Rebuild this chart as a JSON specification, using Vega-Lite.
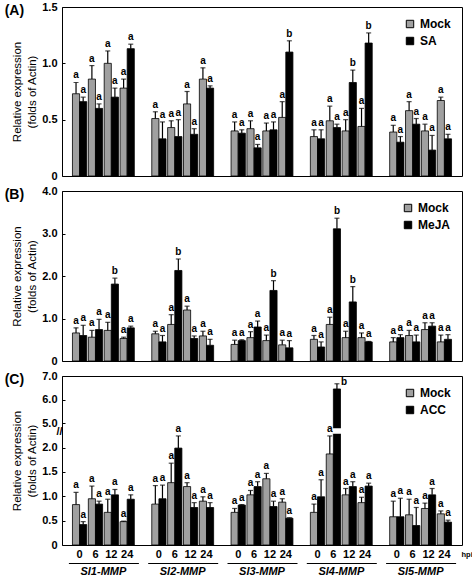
{
"$schema": "https://vega.github.io/schema/vega-lite/v6.json",
"padding": {"left": 4, "top": 0, "right": 0, "bottom": 0},
"spacing": 2,
"config": {
  "font": "Liberation Sans",
  "view": {"stroke": "black", "strokeWidth": 1},
  "axis": {"grid": false, "labelColor": "black", "titleColor": "black", "domainColor": "black", "tickColor": "black", "labelFont": "Liberation Sans", "titleFont": "Liberation Sans"},
  "axisY": {"domain": false, "tickSize": -3, "tickWidth": 1, "labelPadding": 8, "labelFontSize": 11, "labelFontWeight": "bold", "labelOverlap": false, "labelBound": false, "tickCount": 10, "titleFontSize": 11.5, "titleFontWeight": "normal", "titlePadding": 4, "titleLineHeight": 15},
  "legend": {"title": null, "orient": "top-right", "offset": 11, "padding": 0, "symbolType": "square", "symbolSize": 55, "symbolStrokeColor": "black", "symbolStrokeWidth": 1, "labelFontSize": 12, "labelFontWeight": "bold", "labelColor": "black", "labelOffset": 4, "rowPadding": 5, "labelFont": "Liberation Sans"},
  "title": {"anchor": "start", "frame": "bounds", "fontSize": 14, "fontWeight": "bold", "color": "black", "offset": 0, "dy": 21, "dx": -7, "font": "Liberation Sans"}
},
"datasets": {
  "A": [
    {"g":"Sl1-MMP","h":"0","t":"Mock","v":0.73,"e":0.83,"s":"a"},{"g":"Sl1-MMP","h":"0","t":"SA","v":0.66,"e":0.70,"s":"a"},
    {"g":"Sl1-MMP","h":"6","t":"Mock","v":0.86,"e":0.98,"s":"a"},{"g":"Sl1-MMP","h":"6","t":"SA","v":0.60,"e":0.64,"s":"a"},
    {"g":"Sl1-MMP","h":"12","t":"Mock","v":1.00,"e":1.11,"s":"a"},{"g":"Sl1-MMP","h":"12","t":"SA","v":0.70,"e":0.78,"s":"a"},
    {"g":"Sl1-MMP","h":"24","t":"Mock","v":0.78,"e":0.86,"s":"a"},{"g":"Sl1-MMP","h":"24","t":"SA","v":1.13,"e":1.17,"s":"a"},
    {"g":"Sl2-MMP","h":"0","t":"Mock","v":0.51,"e":0.57,"s":"a"},{"g":"Sl2-MMP","h":"0","t":"SA","v":0.33,"e":0.48,"s":"a"},
    {"g":"Sl2-MMP","h":"6","t":"Mock","v":0.43,"e":0.49,"s":"a"},{"g":"Sl2-MMP","h":"6","t":"SA","v":0.35,"e":0.50,"s":"a"},
    {"g":"Sl2-MMP","h":"12","t":"Mock","v":0.64,"e":0.75,"s":"a"},{"g":"Sl2-MMP","h":"12","t":"SA","v":0.37,"e":0.42,"s":"a"},
    {"g":"Sl2-MMP","h":"24","t":"Mock","v":0.86,"e":0.96,"s":"a"},{"g":"Sl2-MMP","h":"24","t":"SA","v":0.78,"e":0.80,"s":"a"},
    {"g":"Sl3-MMP","h":"0","t":"Mock","v":0.40,"e":0.48,"s":"a"},{"g":"Sl3-MMP","h":"0","t":"SA","v":0.38,"e":0.41,"s":"a"},
    {"g":"Sl3-MMP","h":"6","t":"Mock","v":0.42,"e":0.49,"s":"a"},{"g":"Sl3-MMP","h":"6","t":"SA","v":0.25,"e":0.28,"s":"a"},
    {"g":"Sl3-MMP","h":"12","t":"Mock","v":0.40,"e":0.47,"s":"a"},{"g":"Sl3-MMP","h":"12","t":"SA","v":0.41,"e":0.48,"s":"a"},
    {"g":"Sl3-MMP","h":"24","t":"Mock","v":0.52,"e":0.66,"s":"a"},{"g":"Sl3-MMP","h":"24","t":"SA","v":1.10,"e":1.20,"s":"b"},
    {"g":"Sl4-MMP","h":"0","t":"Mock","v":0.35,"e":0.41,"s":"a"},{"g":"Sl4-MMP","h":"0","t":"SA","v":0.33,"e":0.41,"s":"a"},
    {"g":"Sl4-MMP","h":"6","t":"Mock","v":0.49,"e":0.62,"s":"a"},{"g":"Sl4-MMP","h":"6","t":"SA","v":0.43,"e":0.46,"s":"a"},
    {"g":"Sl4-MMP","h":"12","t":"Mock","v":0.40,"e":0.50,"s":"a"},{"g":"Sl4-MMP","h":"12","t":"SA","v":0.83,"e":0.94,"s":"b"},
    {"g":"Sl4-MMP","h":"24","t":"Mock","v":0.44,"e":0.60,"s":"a"},{"g":"Sl4-MMP","h":"24","t":"SA","v":1.18,"e":1.27,"s":"b"},
    {"g":"Sl5-MMP","h":"0","t":"Mock","v":0.39,"e":0.45,"s":"a"},{"g":"Sl5-MMP","h":"0","t":"SA","v":0.30,"e":0.35,"s":"a"},
    {"g":"Sl5-MMP","h":"6","t":"Mock","v":0.58,"e":0.66,"s":"a"},{"g":"Sl5-MMP","h":"6","t":"SA","v":0.46,"e":0.51,"s":"a"},
    {"g":"Sl5-MMP","h":"12","t":"Mock","v":0.40,"e":0.46,"s":"a"},{"g":"Sl5-MMP","h":"12","t":"SA","v":0.23,"e":0.36,"s":"a"},
    {"g":"Sl5-MMP","h":"24","t":"Mock","v":0.67,"e":0.70,"s":"a"},{"g":"Sl5-MMP","h":"24","t":"SA","v":0.33,"e":0.37,"s":"a"}
  ],
  "B": [
    {"g":"Sl1-MMP","h":"0","t":"Mock","v":0.66,"e":0.78,"s":"a"},{"g":"Sl1-MMP","h":"0","t":"MeJA","v":0.60,"e":0.84,"s":"a"},
    {"g":"Sl1-MMP","h":"6","t":"Mock","v":0.56,"e":0.72,"s":"a"},{"g":"Sl1-MMP","h":"6","t":"MeJA","v":0.74,"e":0.98,"s":"a"},
    {"g":"Sl1-MMP","h":"12","t":"Mock","v":0.72,"e":0.91,"s":"a"},{"g":"Sl1-MMP","h":"12","t":"MeJA","v":1.81,"e":1.95,"s":"b"},
    {"g":"Sl1-MMP","h":"24","t":"Mock","v":0.53,"e":0.56,"s":"a"},{"g":"Sl1-MMP","h":"24","t":"MeJA","v":0.78,"e":0.82,"s":"a"},
    {"g":"Sl2-MMP","h":"0","t":"Mock","v":0.64,"e":0.70,"s":"a"},{"g":"Sl2-MMP","h":"0","t":"MeJA","v":0.45,"e":0.60,"s":"a"},
    {"g":"Sl2-MMP","h":"6","t":"Mock","v":0.86,"e":1.09,"s":"a"},{"g":"Sl2-MMP","h":"6","t":"MeJA","v":2.13,"e":2.40,"s":"b"},
    {"g":"Sl2-MMP","h":"12","t":"Mock","v":1.20,"e":1.29,"s":"a"},{"g":"Sl2-MMP","h":"12","t":"MeJA","v":0.53,"e":0.59,"s":"a"},
    {"g":"Sl2-MMP","h":"24","t":"Mock","v":0.59,"e":0.70,"s":"a"},{"g":"Sl2-MMP","h":"24","t":"MeJA","v":0.37,"e":0.51,"s":"a"},
    {"g":"Sl3-MMP","h":"0","t":"Mock","v":0.39,"e":0.49,"s":"a"},{"g":"Sl3-MMP","h":"0","t":"MeJA","v":0.48,"e":0.50,"s":"a"},
    {"g":"Sl3-MMP","h":"6","t":"Mock","v":0.55,"e":0.69,"s":"a"},{"g":"Sl3-MMP","h":"6","t":"MeJA","v":0.80,"e":0.94,"s":"a"},
    {"g":"Sl3-MMP","h":"12","t":"Mock","v":0.48,"e":0.61,"s":"a"},{"g":"Sl3-MMP","h":"12","t":"MeJA","v":1.66,"e":1.89,"s":"b"},
    {"g":"Sl3-MMP","h":"24","t":"Mock","v":0.38,"e":0.49,"s":"a"},{"g":"Sl3-MMP","h":"24","t":"MeJA","v":0.31,"e":0.48,"s":"a"},
    {"g":"Sl4-MMP","h":"0","t":"Mock","v":0.51,"e":0.60,"s":"a"},{"g":"Sl4-MMP","h":"0","t":"MeJA","v":0.33,"e":0.45,"s":"a"},
    {"g":"Sl4-MMP","h":"6","t":"Mock","v":0.86,"e":1.03,"s":"a"},{"g":"Sl4-MMP","h":"6","t":"MeJA","v":3.11,"e":3.36,"s":"b"},
    {"g":"Sl4-MMP","h":"12","t":"Mock","v":0.55,"e":0.70,"s":"a"},{"g":"Sl4-MMP","h":"12","t":"MeJA","v":1.39,"e":1.75,"s":"b"},
    {"g":"Sl4-MMP","h":"24","t":"Mock","v":0.55,"e":0.66,"s":"a"},{"g":"Sl4-MMP","h":"24","t":"MeJA","v":0.45,"e":0.46,"s":"a"},
    {"g":"Sl5-MMP","h":"0","t":"Mock","v":0.45,"e":0.55,"s":"a"},{"g":"Sl5-MMP","h":"0","t":"MeJA","v":0.55,"e":0.62,"s":"a"},
    {"g":"Sl5-MMP","h":"6","t":"Mock","v":0.60,"e":0.72,"s":"a"},{"g":"Sl5-MMP","h":"6","t":"MeJA","v":0.45,"e":0.61,"s":"a"},
    {"g":"Sl5-MMP","h":"12","t":"Mock","v":0.74,"e":0.90,"s":"a"},{"g":"Sl5-MMP","h":"12","t":"MeJA","v":0.82,"e":0.90,"s":"a"},
    {"g":"Sl5-MMP","h":"24","t":"Mock","v":0.45,"e":0.61,"s":"a"},{"g":"Sl5-MMP","h":"24","t":"MeJA","v":0.51,"e":0.62,"s":"a"}
  ],
  "C": [
    {"g":"Sl1-MMP","h":"0","t":"Mock","v":0.83,"e":1.08,"s":"a"},{"g":"Sl1-MMP","h":"0","t":"ACC","v":0.42,"e":0.48,"s":"a"},
    {"g":"Sl1-MMP","h":"6","t":"Mock","v":0.95,"e":1.21,"s":"a"},{"g":"Sl1-MMP","h":"6","t":"ACC","v":0.84,"e":0.90,"s":"a"},
    {"g":"Sl1-MMP","h":"12","t":"Mock","v":0.67,"e":0.94,"s":"a"},{"g":"Sl1-MMP","h":"12","t":"ACC","v":1.03,"e":1.14,"s":"a"},
    {"g":"Sl1-MMP","h":"24","t":"Mock","v":0.48,"e":0.49,"s":"a"},{"g":"Sl1-MMP","h":"24","t":"ACC","v":0.94,"e":1.03,"s":"a"},
    {"g":"Sl2-MMP","h":"0","t":"Mock","v":0.84,"e":1.22,"s":"a"},{"g":"Sl2-MMP","h":"0","t":"ACC","v":0.95,"e":1.23,"s":"a"},
    {"g":"Sl2-MMP","h":"6","t":"Mock","v":1.28,"e":1.68,"s":"a"},{"g":"Sl2-MMP","h":"6","t":"ACC","v":1.99,"e":2.24,"s":"a"},
    {"g":"Sl2-MMP","h":"12","t":"Mock","v":1.20,"e":1.28,"s":"a"},{"g":"Sl2-MMP","h":"12","t":"ACC","v":0.77,"e":0.87,"s":"a"},
    {"g":"Sl2-MMP","h":"24","t":"Mock","v":0.90,"e":0.99,"s":"a"},{"g":"Sl2-MMP","h":"24","t":"ACC","v":0.77,"e":0.87,"s":"a"},
    {"g":"Sl3-MMP","h":"0","t":"Mock","v":0.67,"e":0.75,"s":"a"},{"g":"Sl3-MMP","h":"0","t":"ACC","v":0.82,"e":0.83,"s":"a"},
    {"g":"Sl3-MMP","h":"6","t":"Mock","v":1.03,"e":1.12,"s":"a"},{"g":"Sl3-MMP","h":"6","t":"ACC","v":1.20,"e":1.30,"s":"a"},
    {"g":"Sl3-MMP","h":"12","t":"Mock","v":1.36,"e":1.47,"s":"a"},{"g":"Sl3-MMP","h":"12","t":"ACC","v":0.79,"e":0.90,"s":"a"},
    {"g":"Sl3-MMP","h":"24","t":"Mock","v":0.88,"e":0.95,"s":"a"},{"g":"Sl3-MMP","h":"24","t":"ACC","v":0.55,"e":0.56,"s":"a"},
    {"g":"Sl4-MMP","h":"0","t":"Mock","v":0.67,"e":0.84,"s":"a"},{"g":"Sl4-MMP","h":"0","t":"ACC","v":0.99,"e":1.34,"s":"a"},
    {"g":"Sl4-MMP","h":"6","t":"Mock","v":1.87,"e":2.24,"s":"a"},{"g":"Sl4-MMP","h":"6","t":"ACC","v":6.45,"e":6.67,"s":"b"},
    {"g":"Sl4-MMP","h":"12","t":"Mock","v":1.03,"e":1.16,"s":"a"},{"g":"Sl4-MMP","h":"12","t":"ACC","v":1.20,"e":1.30,"s":"a"},
    {"g":"Sl4-MMP","h":"24","t":"Mock","v":0.87,"e":0.98,"s":"a"},{"g":"Sl4-MMP","h":"24","t":"ACC","v":1.21,"e":1.27,"s":"a"},
    {"g":"Sl5-MMP","h":"0","t":"Mock","v":0.58,"e":0.90,"s":"a"},{"g":"Sl5-MMP","h":"0","t":"ACC","v":0.58,"e":0.96,"s":"a"},
    {"g":"Sl5-MMP","h":"6","t":"Mock","v":0.62,"e":0.94,"s":"a"},{"g":"Sl5-MMP","h":"6","t":"ACC","v":0.40,"e":0.77,"s":"a"},
    {"g":"Sl5-MMP","h":"12","t":"Mock","v":0.75,"e":0.86,"s":"a"},{"g":"Sl5-MMP","h":"12","t":"ACC","v":1.03,"e":1.16,"s":"a"},
    {"g":"Sl5-MMP","h":"24","t":"Mock","v":0.64,"e":0.70,"s":"a"},{"g":"Sl5-MMP","h":"24","t":"ACC","v":0.47,"e":0.51,"s":"a"}
  ]
},
"resolve": {"scale": {"x": "independent", "y": "independent", "color": "independent", "xOffset": "independent"}},
"vconcat": [
  {
    "width": 400, "height": 169,
    "title": {"text": "(A)"},
    "data": {"name": "A"},
    "transform": [{"calculate": "datum.g + '|' + datum.h", "as": "k"}],
    "encoding": {
      "x": {"field": "k", "type": "nominal", "sort": null, "axis": null,
            "scale": {"domain": ["Sl1-MMP|0","Sl1-MMP|6","Sl1-MMP|12","Sl1-MMP|24","s1","Sl2-MMP|0","Sl2-MMP|6","Sl2-MMP|12","Sl2-MMP|24","s2","Sl3-MMP|0","Sl3-MMP|6","Sl3-MMP|12","Sl3-MMP|24","s3","Sl4-MMP|0","Sl4-MMP|6","Sl4-MMP|12","Sl4-MMP|24","s4","Sl5-MMP|0","Sl5-MMP|6","Sl5-MMP|12","Sl5-MMP|24"], "paddingInner": 0.1, "paddingOuter": 0.66}},
      "xOffset": {"field": "t", "type": "nominal", "scale": {"domain": ["Mock", "SA"], "paddingInner": 0, "paddingOuter": 0}}
    },
    "layer": [
      {"mark": {"type": "bar", "stroke": "black", "strokeWidth": 0.8},
       "encoding": {
         "y": {"field": "v", "type": "quantitative", "scale": {"domain": [0, 1.5], "nice": false, "zero": true},
               "axis": {"values": [0, 0.5, 1, 1.5], "labelOverlap": false, "labelExpr": "datum.value == 0 ? '0' : format(datum.value, '.1f')", "title": ["Relative expression", "(folds of Actin)"]}},
         "color": {"field": "t", "type": "nominal", "scale": {"domain": ["Mock", "SA"], "range": ["#a0a0a0", "#000000"]}, "legend": {}}
       }},
      {"mark": {"type": "rule", "color": "black", "strokeWidth": 1.2},
       "encoding": {"y": {"field": "v", "type": "quantitative"}, "y2": {"field": "e"}}},
      {"mark": {"type": "tick", "color": "black", "size": 5, "thickness": 1.2},
       "encoding": {"y": {"field": "e", "type": "quantitative"}}},
      {"mark": {"type": "text", "color": "black", "baseline": "bottom", "dy": -2, "fontSize": 10, "fontWeight": "bold"},
       "encoding": {"y": {"field": "e", "type": "quantitative"}, "text": {"field": "s"}}}
    ]
  },
  {
    "width": 400, "height": 170,
    "title": {"text": "(B)"},
    "data": {"name": "B"},
    "transform": [{"calculate": "datum.g + '|' + datum.h", "as": "k"}],
    "encoding": {
      "x": {"field": "k", "type": "nominal", "sort": null, "axis": null,
            "scale": {"domain": ["Sl1-MMP|0","Sl1-MMP|6","Sl1-MMP|12","Sl1-MMP|24","s1","Sl2-MMP|0","Sl2-MMP|6","Sl2-MMP|12","Sl2-MMP|24","s2","Sl3-MMP|0","Sl3-MMP|6","Sl3-MMP|12","Sl3-MMP|24","s3","Sl4-MMP|0","Sl4-MMP|6","Sl4-MMP|12","Sl4-MMP|24","s4","Sl5-MMP|0","Sl5-MMP|6","Sl5-MMP|12","Sl5-MMP|24"], "paddingInner": 0.1, "paddingOuter": 0.66}},
      "xOffset": {"field": "t", "type": "nominal", "scale": {"domain": ["Mock", "MeJA"], "paddingInner": 0, "paddingOuter": 0}}
    },
    "layer": [
      {"mark": {"type": "bar", "stroke": "black", "strokeWidth": 0.8},
       "encoding": {
         "y": {"field": "v", "type": "quantitative", "scale": {"domain": [0, 4], "nice": false, "zero": true},
               "axis": {"values": [0, 1, 2, 3, 4], "labelOverlap": false, "labelExpr": "datum.value == 0 ? '0' : format(datum.value, '.1f')", "title": ["Relative expression", "(folds of Actin)"]}},
         "color": {"field": "t", "type": "nominal", "scale": {"domain": ["Mock", "MeJA"], "range": ["#a0a0a0", "#000000"]}, "legend": {}}
       }},
      {"mark": {"type": "rule", "color": "black", "strokeWidth": 1.2},
       "encoding": {"y": {"field": "v", "type": "quantitative"}, "y2": {"field": "e"}}},
      {"mark": {"type": "tick", "color": "black", "size": 5, "thickness": 1.2},
       "encoding": {"y": {"field": "e", "type": "quantitative"}}},
      {"mark": {"type": "text", "color": "black", "baseline": "bottom", "dy": -2, "fontSize": 10, "fontWeight": "bold"},
       "encoding": {"y": {"field": "e", "type": "quantitative"}, "text": {"field": "s"}}}
    ]
  },
  {
    "width": 400, "height": 169,
    "title": {"text": "(C)"},
    "data": {"name": "C"},
    "transform": [{"calculate": "datum.g + '|' + datum.h", "as": "k"}],
    "resolve": {"scale": {"x": "independent"}},
    "layer": [
      {
        "encoding": {
          "x": {"field": "k", "type": "nominal", "sort": null,
                "scale": {"domain": ["Sl1-MMP|0","Sl1-MMP|6","Sl1-MMP|12","Sl1-MMP|24","s1","Sl2-MMP|0","Sl2-MMP|6","Sl2-MMP|12","Sl2-MMP|24","s2","Sl3-MMP|0","Sl3-MMP|6","Sl3-MMP|12","Sl3-MMP|24","s3","Sl4-MMP|0","Sl4-MMP|6","Sl4-MMP|12","Sl4-MMP|24","s4","Sl5-MMP|0","Sl5-MMP|6","Sl5-MMP|12","Sl5-MMP|24"], "paddingInner": 0.1, "paddingOuter": 0.66},
                "axis": {"orient": "bottom", "ticks": false, "domain": false, "labelOverlap": false, "labelAngle": 0, "labelFontSize": 11, "labelFontWeight": "bold", "labelPadding": 3,
                         "labelExpr": "indexof(datum.value, '|') > 0 ? split(datum.value, '|')[1] : ''",
                         "title": "hpi", "titleFontSize": 7.5, "titleFontWeight": "bold", "titleX": 399, "titleY": 9, "titleAlign": "left", "titleBaseline": "middle"}},
          "xOffset": {"field": "t", "type": "nominal", "scale": {"domain": ["Mock", "ACC"], "paddingInner": 0, "paddingOuter": 0}}
        },
        "layer": [
          {"mark": {"type": "bar", "stroke": "black", "strokeWidth": 0.8},
           "encoding": {
             "y": {"field": "v", "type": "quantitative", "scale": {"domain": [0, 2.3, 4.75, 7], "range": [169, 57, 53, 0], "nice": false, "zero": false},
                   "axis": {"values": [0, 0.5, 1, 1.5, 2, 3.5, 5, 6, 7], "tickCount": 12, "labelOverlap": false,
                            "labelExpr": "datum.value == 0 ? '0' : datum.value == 3.5 ? '//' : format(datum.value, '.1f')",
                            "labelAlign": {"condition": {"test": "datum.value == 3.5", "value": "center"}, "value": "right"},
                            "labelPadding": {"condition": {"test": "datum.value == 3.5", "value": 3}, "value": 8},
                            "tickSize": {"condition": {"test": "datum.value == 3.5", "value": 0}, "value": -3},
                            "title": ["Relative expression", "(folds of Actin)"]}},
             "color": {"field": "t", "type": "nominal", "scale": {"domain": ["Mock", "ACC"], "range": ["#a0a0a0", "#000000"]}, "legend": {}}
           }},
          {"transform": [{"filter": "datum.k == 'Sl4-MMP|6' && datum.t == 'ACC'"}],
           "mark": {"type": "rect", "fill": "white", "stroke": "white", "strokeWidth": 1.5},
           "encoding": {"y": {"datum": 2.32, "type": "quantitative"}, "y2": {"datum": 4.72}}},
          {"mark": {"type": "rule", "color": "black", "strokeWidth": 1.2},
           "encoding": {"y": {"field": "v", "type": "quantitative"}, "y2": {"field": "e"}}},
          {"mark": {"type": "tick", "color": "black", "size": 5, "thickness": 1.2},
           "encoding": {"y": {"field": "e", "type": "quantitative"}}},
          {"transform": [{"filter": "datum.e < 5"}],
           "mark": {"type": "text", "color": "black", "baseline": "bottom", "dy": -2, "fontSize": 10, "fontWeight": "bold"},
           "encoding": {"y": {"field": "e", "type": "quantitative"}, "text": {"field": "s"}}},
          {"transform": [{"filter": "datum.e >= 5"}],
           "mark": {"type": "text", "color": "black", "align": "left", "baseline": "middle", "dx": 4, "dy": -2, "fontSize": 10, "fontWeight": "bold"},
           "encoding": {"y": {"field": "e", "type": "quantitative"}, "text": {"field": "s"}}}
        ]
      },
      {
        "mark": {"type": "rule", "opacity": 0},
        "encoding": {
          "x": {"field": "g", "type": "nominal", "sort": null,
                "scale": {"domain": ["Sl1-MMP", "Sl2-MMP", "Sl3-MMP", "Sl4-MMP", "Sl5-MMP"], "paddingInner": 0.12, "paddingOuter": 0.082},
                "axis": {"orient": "bottom", "offset": 18, "ticks": false, "domain": true, "domainWidth": 1, "domainDash": [70, 9.3], "domainDashOffset": 72.9, "labelAngle": 0, "labelFontSize": 11, "labelFontWeight": "bold", "labelFontStyle": "italic", "labelPadding": 2, "title": null}}
        }
      }
    ]
  }
]
}
